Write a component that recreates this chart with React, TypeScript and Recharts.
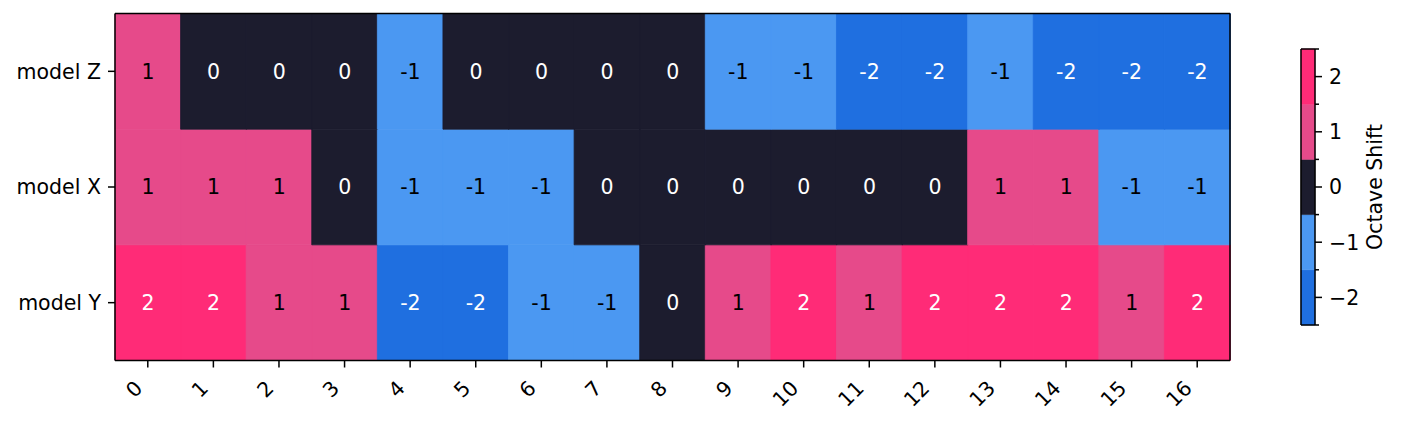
import { Bar, BarChart, Cell, LabelList, XAxis, YAxis } from 'recharts';

const columns = ['0', '1', '2', '3', '4', '5', '6', '7', '8', '9', '10', '11', '12', '13', '14', '15', '16'];
const rowLabels = ['model Y', 'model X', 'model Z']; // bottom to top
const modelZ = [1, 0, 0, 0, -1, 0, 0, 0, 0, -1, -1, -2, -2, -1, -2, -2, -2];
const modelX = [1, 1, 1, 0, -1, -1, -1, 0, 0, 0, 0, 0, 0, 1, 1, -1, -1];
const modelY = [2, 2, 1, 1, -2, -2, -1, -1, 0, 1, 2, 1, 2, 2, 2, 1, 2];
const levels = [-2, -1, 0, 1, 2];
const levelColors = ['#1f6fe0', '#4b98f2', '#1c1c2e', '#e64a8a', '#ff2b77'];
const darkLevels = [-2, 0, 2];

const FONT = 'DejaVu Sans, sans-serif';
const FS = 20.5;
const LINE = { stroke: '#000', strokeWidth: 1.5 };

const colorOf = (v: number) => levelColors[levels.indexOf(v)];

const heatData = columns.map((c, i) => ({
  col: c,
  y: 1,
  x: 1,
  z: 1,
  vy: modelY[i],
  vx: modelX[i],
  vz: modelZ[i],
}));

const barData = [
  levels.reduce((acc: Record<string, any>, lv, i) => {
    acc['l' + i] = 1;
    return acc;
  }, { name: 'cb' }),
];

function cellLabel(props: any) {
  const { x, y, width, height, value } = props;
  const fill = darkLevels.includes(value) ? '#ffffff' : '#000000';
  return (
    <text
      x={x + width / 2}
      y={y + height / 2}
      dy="0.36em"
      textAnchor="middle"
      fill={fill}
      fontSize={FS}
      fontFamily={FONT}
    >
      {String(value)}
    </text>
  );
}

function XTick({ x, y, payload }: any) {
  const ax = x - 4;
  const ay = y + 22;
  return (
    <text
      x={ax}
      y={ay}
      textAnchor="end"
      fill="#000"
      fontSize={FS}
      fontFamily={FONT}
      transform={`rotate(-45 ${ax} ${ay})`}
    >
      {payload.value}
    </text>
  );
}

function ColorbarTick({ x, y, payload }: any) {
  const v = payload.value as number;
  const major = v % 1 !== 0;
  const idx = Math.floor(v);
  return (
    <g>
      <line x1={x} x2={x + (major ? 7 : 4)} y1={y} y2={y} stroke="#000" strokeWidth={1.5} />
      {major && (
        <text x={x + 14} y={y} dy="0.36em" textAnchor="start" fill="#000" fontSize={FS} fontFamily={FONT}>
          {String(levels[idx]).replace('-', '\u2212')}
        </text>
      )}
    </g>
  );
}

const rows = [
  { key: 'y', val: 'vy' },
  { key: 'x', val: 'vx' },
  { key: 'z', val: 'vz' },
];

export default function App() {
  return (
    <div style={{ position: 'absolute', left: 0, top: 0, width: 1403, height: 423, background: '#fff', fontFamily: FONT }}>
      <div style={{ position: 'absolute', left: 0, top: 0 }}>
        <BarChart
          width={1403}
          height={423}
          data={heatData}
          margin={{ top: 12.5, right: 172, bottom: 0, left: 0 }}
          barCategoryGap={0}
          barGap={0}
        >
          <XAxis
            dataKey="col"
            height={62.5}
            tickSize={7}
            tickMargin={0}
            interval={0}
            tick={<XTick />}
            tickLine={LINE}
            axisLine={LINE}
          />
          <XAxis xAxisId="top" orientation="top" dataKey="col" height={1} tick={false} tickLine={false} axisLine={LINE} />
          <YAxis
            type="number"
            domain={[0, 3]}
            ticks={[0.5, 1.5, 2.5]}
            width={115}
            tickSize={7}
            tickMargin={7}
            interval={0}
            tickFormatter={(v) => rowLabels[Math.floor(Number(v))]}
            tick={{ fill: '#000', fontSize: FS, fontFamily: FONT }}
            tickLine={LINE}
            axisLine={LINE}
          />
          <YAxis yAxisId="right" orientation="right" width={1} tick={false} tickLine={false} axisLine={LINE} />
          {rows.map((r) => (
            <Bar key={r.key} dataKey={r.key} stackId="heat" isAnimationActive={false}>
              {heatData.map((d: any, i) => (
                <Cell key={i} fill={colorOf(d[r.val])} stroke={colorOf(d[r.val])} strokeWidth={0.8} />
              ))}
              <LabelList dataKey={r.val} content={cellLabel} />
            </Bar>
          ))}
        </BarChart>
      </div>
      <div style={{ position: 'absolute', left: 1300, top: 0 }}>
        <BarChart
          width={103}
          height={423}
          data={barData}
          margin={{ top: 48, right: 14, bottom: 97, left: 0 }}
          barCategoryGap={0}
        >
          <XAxis dataKey="name" height={1} tick={false} tickLine={false} axisLine={LINE} />
          <XAxis xAxisId="top" orientation="top" dataKey="name" height={1} tick={false} tickLine={false} axisLine={LINE} />
          <YAxis yAxisId="left" width={1} tick={false} tickLine={false} axisLine={LINE} />
          <YAxis
            orientation="right"
            type="number"
            domain={[0, 5]}
            ticks={[0, 0.5, 1, 1.5, 2, 2.5, 3, 3.5, 4, 4.5, 5]}
            interval={0}
            width={74}
            tickSize={0}
            tickMargin={0}
            tickLine={false}
            tick={<ColorbarTick />}
            axisLine={LINE}
            label={{
              value: 'Octave Shift',
              angle: -90,
              position: 'center',
              dx: 23,
              fill: '#000',
              fontSize: FS,
              fontFamily: FONT,
            }}
          />
          {levels.map((lv, i) => (
            <Bar key={lv} dataKey={'l' + i} stackId="cb" fill={levelColors[i]} stroke={levelColors[i]} strokeWidth={0.5} isAnimationActive={false} />
          ))}
        </BarChart>
      </div>
    </div>
  );
}
